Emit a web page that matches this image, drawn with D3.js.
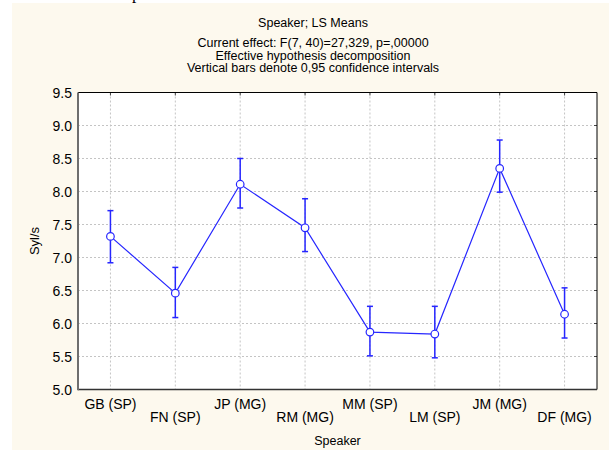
<!DOCTYPE html>
<html>
<head>
<meta charset="UTF-8">
<script src="https://d3js.org/d3.v7.min.js"></script>
<style>
body { margin: 0; background: #fff; }
svg { display: block; font-family: "Liberation Sans", Arial, sans-serif; }
</style>
</head>
<body>
<svg width="612" height="450"></svg>
<script>

var speakers = ["GB (SP)", "FN (SP)", "JP (MG)", "RM (MG)", "MM (SP)", "LM (SP)", "JM (MG)", "DF (MG)"];
var means = [7.32, 6.46, 8.11, 7.45, 5.87, 5.84, 8.35, 6.14];
var upper = [7.71, 6.85, 8.50, 7.89, 6.26, 6.26, 8.78, 6.54];
var lower = [6.92, 6.09, 7.75, 7.09, 5.51, 5.48, 7.99, 5.78];
var yTicks = [5.0, 5.5, 6.0, 6.5, 7.0, 7.5, 8.0, 8.5, 9.0, 9.5];
var titles = ["Current effect: F(7, 40)=27,329, p=,00000",
              "Effective hypothesis decomposition",
              "Vertical bars denote 0,95 confidence intervals"];

var svg = d3.select("svg"),
    plot = {left: 78, right: 597, top: 92.5, bottom: 389.5};

// beige frame
svg.append("rect")
    .attr("x", 12).attr("y", 3)
    .attr("width", 597).attr("height", 447)
    .attr("fill", "#fdf9ee");

// leftover descender from the text above the figure
svg.append("text")
    .attr("x", 132).attr("y", -1)
    .attr("font-family", "Liberation Serif, serif")
    .attr("font-size", 17)
    .text("p");

svg.append("rect")
    .attr("x", plot.left).attr("y", plot.top)
    .attr("width", plot.right - plot.left).attr("height", plot.bottom - plot.top)
    .attr("fill", "#fff");

var x = d3.scaleBand()
    .domain(speakers)
    .range([plot.left, plot.right]);

var y = d3.scaleLinear()
    .domain([5, 9.5])
    .range([plot.bottom, plot.top]);

var cx = function(d) { return x(d) + x.bandwidth() / 2; };

// grid
svg.append("g")
    .selectAll("line")
    .data(yTicks.slice(1, -1))
    .enter().append("line")
      .attr("x1", plot.left).attr("x2", plot.right)
      .attr("y1", function(d) { return y(d); })
      .attr("y2", function(d) { return y(d); })
      .attr("stroke", "#c4c4c4")
      .attr("stroke-dasharray", "2,2");

svg.append("g")
    .selectAll("line")
    .data(speakers)
    .enter().append("line")
      .attr("x1", cx).attr("x2", cx)
      .attr("y1", plot.top).attr("y2", plot.bottom)
      .attr("stroke", "#c4c4c4")
      .attr("stroke-dasharray", "2,2");

// small inner ticks on top and right
svg.append("g")
    .selectAll("line")
    .data(speakers)
    .enter().append("line")
      .attr("x1", cx).attr("x2", cx)
      .attr("y1", plot.top).attr("y2", plot.top + 3)
      .attr("stroke", "#444");

svg.append("g")
    .selectAll("line")
    .data(yTicks.slice(1, -1))
    .enter().append("line")
      .attr("x1", plot.right - 3).attr("x2", plot.right)
      .attr("y1", function(d) { return y(d); })
      .attr("y2", function(d) { return y(d); })
      .attr("stroke", "#444");

// frame
svg.append("line")
    .attr("x1", plot.left).attr("x2", plot.right)
    .attr("y1", plot.top).attr("y2", plot.top)
    .attr("stroke", "#000");
svg.append("line")
    .attr("x1", plot.right).attr("x2", plot.right)
    .attr("y1", plot.top).attr("y2", plot.bottom)
    .attr("stroke", "#000");
svg.append("line")
    .attr("x1", plot.left).attr("x2", plot.right)
    .attr("y1", plot.bottom).attr("y2", plot.bottom)
    .attr("stroke", "#333").attr("stroke-width", 1.5);
svg.append("line")
    .attr("x1", plot.left).attr("x2", plot.left)
    .attr("y1", plot.top).attr("y2", plot.bottom + 0.75)
    .attr("stroke", "#6e6e6e").attr("stroke-width", 2);

// y tick labels
svg.append("g")
    .attr("font-size", 14)
    .attr("text-anchor", "end")
    .selectAll("text")
    .data(yTicks)
    .enter().append("text")
      .attr("x", 72)
      .attr("y", function(d) { return y(d); })
      .attr("dy", "0.36em")
      .text(function(d) { return d.toFixed(1); });

// x tick labels, staggered
svg.append("g")
    .attr("font-size", 14)
    .attr("text-anchor", "middle")
    .selectAll("text")
    .data(speakers)
    .enter().append("text")
      .attr("x", cx)
      .attr("y", function(d, i) { return i % 2 ? 422 : 409; })
      .text(function(d) { return d; });

// axis titles
svg.append("text")
    .attr("x", (plot.left + plot.right) / 2)
    .attr("y", 445)
    .attr("text-anchor", "middle")
    .attr("font-size", 12.5)
    .text("Speaker");

svg.append("text")
    .attr("transform", "translate(39," + ((plot.top + plot.bottom) / 2) + ") rotate(-90)")
    .attr("text-anchor", "middle")
    .attr("font-size", 13)
    .text("Syl/s");

// chart titles
svg.append("text")
    .attr("x", 313)
    .attr("y", 27)
    .attr("text-anchor", "middle")
    .attr("font-size", 12.5)
    .text("Speaker; LS Means");

svg.append("g")
    .attr("font-size", 12.5)
    .attr("text-anchor", "middle")
    .selectAll("text")
    .data(titles)
    .enter().append("text")
      .attr("x", 313)
      .attr("y", function(d, i) { return 47 + i * 12.5; })
      .text(function(d) { return d; });

// means line
var idx = d3.range(speakers.length);
svg.append("path")
    .datum(idx)
    .attr("fill", "none")
    .attr("stroke", "#2626ff")
    .attr("stroke-width", 1.2)
    .attr("d", d3.line()
        .x(function(i) { return cx(speakers[i]); })
        .y(function(i) { return y(means[i]); }));

// confidence bars
var bars = svg.append("g")
    .attr("stroke", "#2626ff")
    .attr("stroke-width", 1.5);

bars.selectAll(".v")
    .data(idx)
    .enter().append("line")
      .attr("x1", function(i) { return cx(speakers[i]); })
      .attr("x2", function(i) { return cx(speakers[i]); })
      .attr("y1", function(i) { return y(upper[i]); })
      .attr("y2", function(i) { return y(lower[i]); });

[upper, lower].forEach(function(arr) {
  bars.append("g")
    .selectAll("line")
    .data(idx)
    .enter().append("line")
      .attr("x1", function(i) { return cx(speakers[i]) - 3; })
      .attr("x2", function(i) { return cx(speakers[i]) + 3; })
      .attr("y1", function(i) { return y(arr[i]); })
      .attr("y2", function(i) { return y(arr[i]); });
});

svg.append("g")
    .selectAll("circle")
    .data(idx)
    .enter().append("circle")
      .attr("cx", function(i) { return cx(speakers[i]); })
      .attr("cy", function(i) { return y(means[i]); })
      .attr("r", 3.8)
      .attr("fill", "#fff")
      .attr("stroke", "#2626ff")
      .attr("stroke-width", 1.2);

</script>
</body>
</html>
